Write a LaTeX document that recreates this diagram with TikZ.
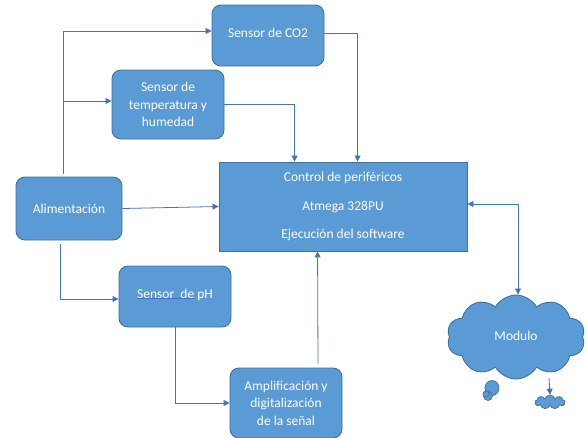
\documentclass[tikz,border=0pt]{standalone}
\usepackage{fontspec}
\setmainfont{Carlito}
\usetikzlibrary{arrows.meta,shapes.symbols,shapes.geometric}
\definecolor{boxfill}{HTML}{5B9BD5}
\definecolor{boxline}{HTML}{41719C}
\definecolor{conncol}{HTML}{4472C4}
\tikzset{
  blk/.style={fill=boxfill, draw=boxline, line width=0.9pt, rounded corners=9pt, text=white, align=center, inner sep=0pt,
    font=\fontsize{13.5}{17.5}\selectfont},
  ctrlbox/.style={fill=boxfill, draw=boxline, line width=0.9pt, text=white, align=center, inner sep=0pt,
    font=\fontsize{13.5}{17.5}\selectfont},
  conn/.style={draw=conncol, line width=0.8pt, -{Triangle[length=6pt,width=6pt]}},
  bconn/.style={draw=conncol, line width=0.8pt, {Triangle[length=6pt,width=6pt]}-{Triangle[length=6pt,width=6pt]}},
  cloudbox/.style={cloud, fill=boxfill, draw=boxline, line width=0.9pt, text=white, inner sep=0pt,
    font=\fontsize{13.5}{17.5}\selectfont}
}
\begin{document}
\begin{tikzpicture}[x=1pt,y=-1pt]
\useasboundingbox (0,0) rectangle (587,437);
\node[blk, minimum width=112, minimum height=61] (co2) at (268,35.5) {\raisebox{4.5pt}{Sensor de CO2}};
\node[blk, minimum width=112, minimum height=69] (temp) at (168,104.5) {Sensor de\\temperatura y\\humedad};
\node[blk, minimum width=106, minimum height=63] (alim) at (69,208.5) {Alimentación};
\node[ctrlbox, minimum width=248, minimum height=89] (ctrl) at (343,206.5) {\raisebox{2.5pt}{\begin{tabular}{@{}c@{}}Control de periféricos\\[11pt]Atmega 328PU\\[11pt]Ejecución del software\end{tabular}}};
\node[blk, minimum width=112, minimum height=61] (ph) at (175,296.5) {\raisebox{4.5pt}{Sensor\ \ de pH}};
\draw[conncol, line width=0.8pt] (137,298) -- (194,298);
\node[blk, minimum width=112, minimum height=70] (amp) at (286,403) {Amplificación y\\digitalización\\de la señal};
\node[cloudbox, cloud puffs=10, cloud puff arc=120, minimum width=138, minimum height=84] (cloud) at (516,337) {\raisebox{2pt}{Modulo}};
\node[ellipse, fill=boxfill, draw=boxline, line width=0.7pt, minimum width=14, minimum height=15, inner sep=0pt] (b1) at (492,388) {};
\node[circle, fill=boxfill, draw=boxline, line width=0.7pt, minimum size=9, inner sep=0pt] (b2) at (488,396) {};
\node[circle, fill=boxfill, draw=boxline, line width=0.7pt, minimum size=6, inner sep=0pt] (b3) at (486,394) {};
\node[cloud, cloud puffs=9, fill=boxfill, draw=boxline, line width=0.7pt, minimum width=30, minimum height=14, inner sep=0pt] (sc) at (550,402) {};
\coordinate (cs) at (549,378);
\draw[conn] (cs) -- (sc.north);
% connectors
\draw[conn] ([xshift=-6pt,yshift=3pt]alim.north) |- ([yshift=4.5pt]co2.west);
\draw[conn] ([xshift=-6pt,yshift=3pt]alim.north) |- ([yshift=3.5pt]temp.west);
\draw[conn] (alim.east) -- (ctrl.west);
\draw[conn] ([xshift=-9pt,yshift=-4pt]alim.south) |- ([yshift=-2.5pt]ph.west);
\draw[conn] (ph.south) |- (amp.west);
\draw[conn] ([xshift=32pt,yshift=4pt]amp.north) -- ([xshift=99pt]ctrl.south west);
\draw[conn] (temp.east) -| ([xshift=76pt]ctrl.north west);
\draw[conn] ([yshift=2.5pt]co2.east) -| ([xshift=139pt]ctrl.north west);
\draw[bconn] ([yshift=2.5pt]ctrl.east) -| ([xshift=2pt]cloud.north);
\end{tikzpicture}
\end{document}
